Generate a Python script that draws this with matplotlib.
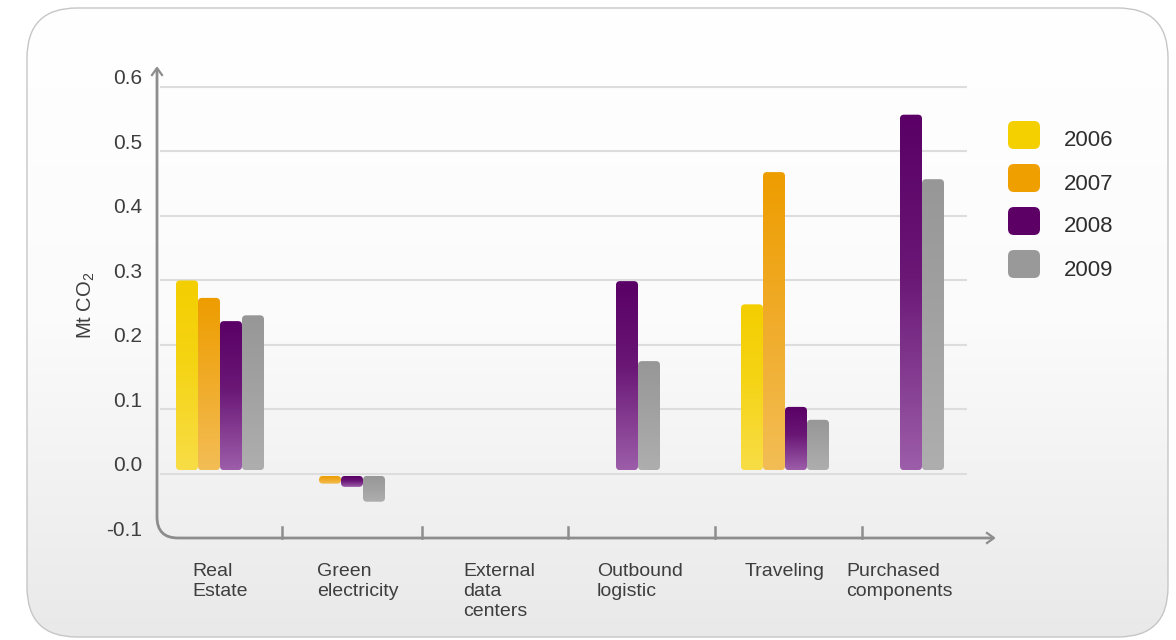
import numpy as np
import matplotlib
matplotlib.use('Agg')
import matplotlib.pyplot as plt
from matplotlib.patches import FancyBboxPatch, PathPatch
from matplotlib.path import Path
from matplotlib.colors import LinearSegmentedColormap

plt.rcParams['font.family'] = ['Liberation Sans', 'DejaVu Sans']
plt.rcParams['mathtext.fontset'] = 'custom'
plt.rcParams['mathtext.rm'] = 'Liberation Sans'

## Data (Mt CO2, None = no bar)
categories = ['Real\nEstate', 'Green\nelectricity', 'External\ndata\ncenters',
              'Outbound\nlogistic', 'Traveling', 'Purchased\ncomponents']
years = ['2006', '2007', '2008', '2009']
v2006 = [0.300, None, None, None, 0.263, None]
v2007 = [0.273, -0.015, None, None, 0.468, None]
v2008 = [0.237, -0.020, None, 0.299, 0.104, 0.557]
v2009 = [0.246, -0.043, None, 0.175, 0.084, 0.457]
yticks = [-0.1, 0.0, 0.1, 0.2, 0.3, 0.4, 0.5, 0.6]

## Layout (x in pixels from the y axis)
W, H = 1176, 640
group_x = [63, 184, 337, 459, 628, 743]
label_x = [192, 317, 463, 597, 745, 846]
tick_x = [282, 422, 568, 715, 862]
bar_w = 22
px = 0.1 / 64.5          # data units per pixel on y
gap = 0.006

# bottom, mid and top colour for each year
grads = {
    '2006': ['#f8dd46', '#f5d415', '#f3ce00'],
    '2007': ['#f3bd55', '#f0aa25', '#ee9d00'],
    '2008': ['#9c5da9', '#6a1776', '#5a0066'],
    '2009': ['#aeaeae', '#a1a1a1', '#979797'],
}
solid = {'2006': '#f5d000', '2007': '#ef9f00', '2008': '#5c0066', '2009': '#999999'}

fig = plt.figure(figsize=(W / 100, H / 100), dpi=100)
fig.patch.set_facecolor('white')

# pixel-space axes for the panel, axis lines and text
bg = fig.add_axes([0, 0, 1, 1])
bg.set_xlim(0, W)
bg.set_ylim(H, 0)
bg.axis('off')

panel = FancyBboxPatch((27, 8), 1141, 629, boxstyle='round,pad=0,rounding_size=50',
                       fc='none', ec='#c6c6c6', lw=1.0, zorder=2)
bg.add_patch(panel)
pg = bg.imshow(np.linspace(0, 1, 256).reshape(-1, 1),
               cmap=LinearSegmentedColormap.from_list('bgp', ['#ffffff', '#fbfbfb', '#e9e9e9']),
               extent=(27, 1168, 637, 8), aspect='auto', zorder=1)
pg.set_clip_path(panel)
bg.set_xlim(0, W)
bg.set_ylim(H, 0)

# axes with rounded corner and arrow heads
ax_col = '#8d8d8d'
verts = [(157, 70), (157, 517), (157, 538), (178, 538), (993, 538)]
codes = [Path.MOVETO, Path.LINETO, Path.CURVE3, Path.CURVE3, Path.LINETO]
bg.add_patch(PathPatch(Path(verts, codes), fc='none', ec=ax_col, lw=2.0, zorder=5, capstyle='butt'))
bg.plot([152, 157, 162], [75, 68, 75], color=ax_col, lw=1.6, zorder=5)
bg.plot([987, 994, 987], [533, 538, 543], color=ax_col, lw=1.6, zorder=5)
for tx in tick_x:
    bg.plot([tx, tx], [538, 527], color=ax_col, lw=1.8, zorder=5)

for lab, lx in zip(categories, label_x):
    bg.text(lx, 563, lab, ha='left', va='top', fontsize=14, color='#3e3e3e',
            linespacing=1.22, zorder=6)

bg.text(86, 305, r'Mt CO$_\mathrm{2}$', rotation=90, ha='center', va='center',
        fontsize=14.5, color='#3e3e3e', zorder=6)

# legend
for i, yr in enumerate(years):
    cy = 135 + 43 * i
    bg.add_patch(FancyBboxPatch((1008, cy - 14), 32, 28, boxstyle='round,pad=0,rounding_size=6',
                                fc=solid[yr], ec='none', zorder=6))
    bg.text(1064, cy + 6, yr, ha='left', va='center', fontsize=16, color='#2e2e2e', zorder=6)

## Chart axes
ax = fig.add_axes([157 / W, (H - 538.5) / H, 836 / W, (538.5 - 67.6) / H])
ax.patch.set_alpha(0)
ax.axis('off')

ax.hlines([t for t in yticks if t >= 0], 3, 810, color='#dddddd', lw=1.5, zorder=1)
for t in yticks:
    ax.text(-15, t + 8 * px, f'{t:.1f}', ha='right', va='center', fontsize=15,
            color='#3e3e3e', clip_on=False)


def grad_bar(x0, val, cols):
    if val >= 0:
        lo, hi = gap, val
    else:
        lo, hi = val, -gap * 0.5
    patch = FancyBboxPatch((x0, lo), bar_w, hi - lo, boxstyle='round,pad=0,rounding_size=4',
                           mutation_aspect=px, fc='none', ec='none', zorder=3)
    ax.add_patch(patch)
    cmap = LinearSegmentedColormap.from_list('b', [(0, cols[0]), (0.55, cols[1]), (1, cols[2])])
    im = ax.imshow(np.linspace(0, 1, 128).reshape(-1, 1), cmap=cmap, origin='lower',
                   extent=(x0, x0 + bar_w, lo, hi), aspect='auto', zorder=3,
                   interpolation='bilinear')
    im.set_clip_path(patch)


series = [v2006, v2007, v2008, v2009]
for j, (yr, vals) in enumerate(zip(years, series)):
    for gx, v in zip(group_x, vals):
        if v is None:
            continue
        grad_bar(gx - 2 * bar_w + j * bar_w, v, grads[yr])

ax.set_xlim(0, 836)
ax.set_ylim(-0.1, 0.63)

fig.savefig('out.png', dpi=100)
